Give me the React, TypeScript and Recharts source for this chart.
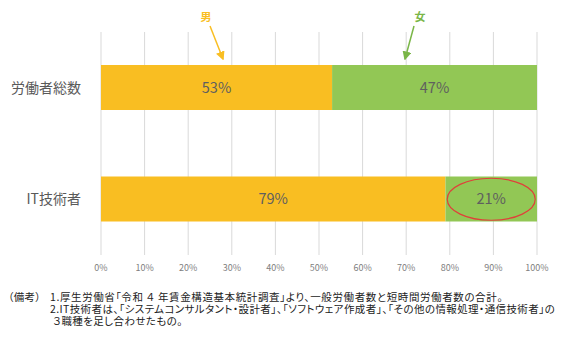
import React from "react";
import { BarChart, Bar, XAxis, YAxis, CartesianGrid, LabelList, ReferenceDot } from "recharts";

const categories = ["労働者総数", "IT技術者"];
const maleShare = [0.53, 0.79];
const femaleShare = [0.47, 0.21];
const xTicks = [0, 0.1, 0.2, 0.3, 0.4, 0.5, 0.6, 0.7, 0.8, 0.9, 1];
const noteHead = "（備考）";
const notes = [
  "1.厚生労働省「令和 ４ 年賃金構造基本統計調査」より、一般労働者数と短時間労働者数の合計。",
  "2.IT技術者は、「システムコンサルタント・設計者」、「ソフトウェア作成者」、「その他の情報処理・通信技術者」の",
  "３職種を足し合わせたもの。",
];

const data = categories.map((name, i) => ({ name, male: maleShare[i], female: femaleShare[i] }));

const ORANGE = "#F9BE22";
const GREEN = "#92C755";
const FONT = '"Noto Sans CJK JP", "Noto Sans", sans-serif';

const pct = (v: number) => `${Math.round(v * 100)}%`;

const noteStyle: React.CSSProperties = {
  position: "absolute",
  fontSize: 10.5,
  color: "#222",
  lineHeight: "12px",
  whiteSpace: "nowrap",
  letterSpacing: 0.4,
  fontFeatureSettings: '"palt"',
};

export default function App() {
  return (
    <div style={{ position: "fixed", left: 0, top: 0, width: 561, height: 341, background: "#fff", fontFamily: FONT }}>
      <BarChart
        width={561}
        height={341}
        data={data}
        layout="vertical"
        margin={{ top: 32, right: 24, bottom: 56, left: 0 }}
        barSize={45}
      >
        <CartesianGrid horizontal={false} stroke="#d9d9d9" />
        <XAxis
          type="number"
          domain={[0, 1]}
          ticks={xTicks}
          tickFormatter={pct}
          axisLine={false}
          tickLine={false}
          height={30}
          tick={{ fill: "#808080", fontSize: 9, fontFamily: FONT }}
          dy={2}
        />
        <YAxis
          type="category"
          dataKey="name"
          width={101}
          axisLine={false}
          tickLine={false}
          tickMargin={14}
          tick={{ fill: "#595959", fontSize: 14, fontFamily: FONT }}
        />
        <Bar dataKey="male" stackId="a" fill={ORANGE} isAnimationActive={false}>
          <LabelList dataKey="male" position="center" formatter={pct} fill="#5f5f5f" fontSize={14.5} fontFamily={FONT} />
        </Bar>
        <Bar dataKey="female" stackId="a" fill={GREEN} isAnimationActive={false}>
          <LabelList dataKey="female" position="center" formatter={pct} fill="#5f5f5f" fontSize={14.5} fontFamily={FONT} />
        </Bar>
        <ReferenceDot
          x={maleShare[1] + femaleShare[1] / 2}
          y={categories[1]}
          r={0}
          shape={(p: any) => (
            <ellipse cx={p.cx} cy={p.cy} rx={44} ry={21} fill="none" stroke="#E0403A" strokeWidth={1.2} />
          )}
        />
      </BarChart>
      <svg width={561} height={70} style={{ position: "absolute", left: 0, top: 0 }}>
        <defs>
          <marker id="ao" markerWidth="6" markerHeight="6" refX="5" refY="3" orient="auto">
            <path d="M0,0 L6,3 L0,6 z" fill={ORANGE} />
          </marker>
          <marker id="ag" markerWidth="6" markerHeight="6" refX="5" refY="3" orient="auto">
            <path d="M0,0 L6,3 L0,6 z" fill="#7AB648" />
          </marker>
        </defs>
        <text x={206} y={21} textAnchor="middle" fill={ORANGE} fontSize={11} fontWeight="bold" fontFamily={FONT}>男</text>
        <text x={420} y={21} textAnchor="middle" fill="#7AB648" fontSize={11} fontWeight="bold" fontFamily={FONT}>女</text>
        <line x1={210} y1={26} x2={223} y2={59} stroke={ORANGE} strokeWidth={1.5} markerEnd="url(#ao)" />
        <line x1={414} y1={26} x2={405} y2={59} stroke="#7AB648" strokeWidth={1.5} markerEnd="url(#ag)" />
      </svg>
      <div style={{ ...noteStyle, left: 8, top: 290.5 }}>{noteHead}</div>
      <div style={{ ...noteStyle, left: 50, top: 290.5, letterSpacing: 0.6 }}>{notes[0]}</div>
      <div style={{ ...noteStyle, left: 50, top: 302.5 }}>{notes[1]}</div>
      <div style={{ ...noteStyle, left: 53, top: 315 }}>{notes[2]}</div>
    </div>
  );
}
